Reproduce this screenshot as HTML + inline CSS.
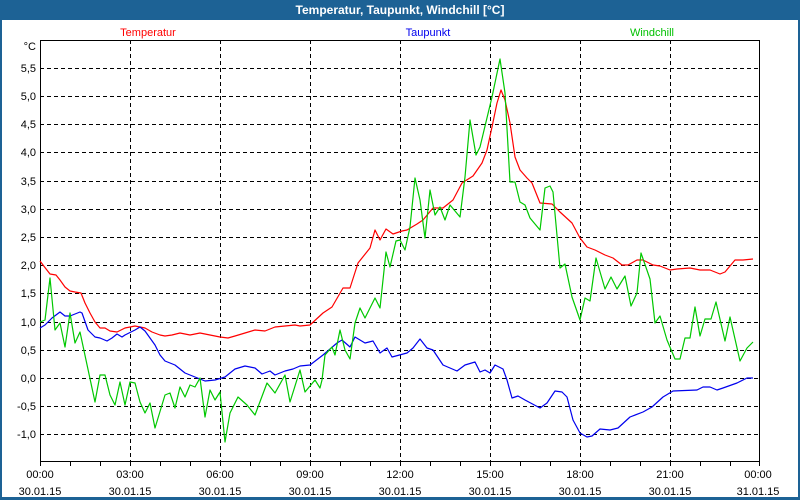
<!DOCTYPE html>
<html><head><meta charset="utf-8"><style>
html,body{margin:0;padding:0;background:#fff;}
svg{display:block;font-family:"Liberation Sans",sans-serif;}
</style></head><body>
<svg width="800" height="500" viewBox="0 0 800 500" xmlns="http://www.w3.org/2000/svg">
<rect x="0" y="0" width="800" height="500" fill="#1d6295"/>
<rect x="2" y="20" width="796" height="477" fill="#fff"/>
<text x="400" y="14" fill="#fff" font-size="12" font-weight="bold" text-anchor="middle">Temperatur, Taupunkt, Windchill [°C]</text>
<text x="148" y="36" fill="#ff0000" font-size="11" text-anchor="middle">Temperatur</text>
<text x="428" y="36" fill="#0000ee" font-size="11" text-anchor="middle">Taupunkt</text>
<text x="652" y="36" fill="#00c000" font-size="11" text-anchor="middle">Windchill</text>
<g stroke="#000" stroke-width="1" stroke-dasharray="4,3" shape-rendering="crispEdges">
<line x1="40" y1="68.5" x2="760" y2="68.5"/><line x1="40" y1="96.5" x2="760" y2="96.5"/>
<line x1="40" y1="124.5" x2="760" y2="124.5"/><line x1="40" y1="152.5" x2="760" y2="152.5"/>
<line x1="40" y1="181.5" x2="760" y2="181.5"/><line x1="40" y1="209.5" x2="760" y2="209.5"/>
<line x1="40" y1="237.5" x2="760" y2="237.5"/><line x1="40" y1="265.5" x2="760" y2="265.5"/>
<line x1="40" y1="293.5" x2="760" y2="293.5"/><line x1="40" y1="322.5" x2="760" y2="322.5"/>
<line x1="40" y1="350.5" x2="760" y2="350.5"/><line x1="40" y1="378.5" x2="760" y2="378.5"/>
<line x1="40" y1="406.5" x2="760" y2="406.5"/><line x1="40" y1="434.5" x2="760" y2="434.5"/>
<line x1="130.5" y1="40" x2="130.5" y2="461"/><line x1="220.5" y1="40" x2="220.5" y2="461"/>
<line x1="310.5" y1="40" x2="310.5" y2="461"/><line x1="400.5" y1="40" x2="400.5" y2="461"/>
<line x1="490.5" y1="40" x2="490.5" y2="461"/><line x1="580.5" y1="40" x2="580.5" y2="461"/>
<line x1="670.5" y1="40" x2="670.5" y2="461"/>
</g>
<g font-size="11" fill="#000" text-anchor="end">
<text x="36" y="50">°C</text>
<text x="36" y="72">5,5</text><text x="36" y="100">5,0</text><text x="36" y="128">4,5</text>
<text x="36" y="156">4,0</text><text x="36" y="185">3,5</text><text x="36" y="213">3,0</text>
<text x="36" y="241">2,5</text><text x="36" y="269">2,0</text><text x="36" y="297">1,5</text>
<text x="36" y="326">1,0</text><text x="36" y="354">0,5</text><text x="36" y="382">0,0</text>
<text x="36" y="410">-0,5</text><text x="36" y="438">-1,0</text>
</g>
<g font-size="11" fill="#000" text-anchor="middle">
<text x="40" y="478">00:00</text><text x="40" y="495">30.01.15</text>
<text x="130" y="478">03:00</text><text x="130" y="495">30.01.15</text>
<text x="220" y="478">06:00</text><text x="220" y="495">30.01.15</text>
<text x="310" y="478">09:00</text><text x="310" y="495">30.01.15</text>
<text x="400" y="478">12:00</text><text x="400" y="495">30.01.15</text>
<text x="490" y="478">15:00</text><text x="490" y="495">30.01.15</text>
<text x="580" y="478">18:00</text><text x="580" y="495">30.01.15</text>
<text x="670" y="478">21:00</text><text x="670" y="495">30.01.15</text>
<text x="758" y="478">00:00</text><text x="758" y="495">31.01.15</text>
</g>
<g stroke="#000" stroke-width="1" shape-rendering="crispEdges">
<line x1="40.5" y1="40" x2="40.5" y2="461"/><line x1="759.5" y1="40" x2="759.5" y2="461"/>
<line x1="40" y1="40.5" x2="760" y2="40.5"/><line x1="40" y1="461.5" x2="760" y2="461.5"/>
<path d="M40.5 461v5M70.5 461v5M100.5 461v5M130.5 461v5M160.5 461v5M190.5 461v5M220.5 461v5M250.5 461v5M280.5 461v5M310.5 461v5M340.5 461v5M370.5 461v5M400.5 461v5M430.5 461v5M460.5 461v5M490.5 461v5M520.5 461v5M550.5 461v5M580.5 461v5M610.5 461v5M640.5 461v5M670.5 461v5M700.5 461v5M730.5 461v5M759.5 461v5"/>
</g>
<g fill="none" stroke-width="1.2" stroke-linejoin="round">
<polyline stroke="#ff0000" points="40,261 43,265 50,274 56,275 60,280 65,287 70,291 75,292 81,293 85,303 90,313 95,322 100,328 105,328 110,331 117,332 125,328 135,326 145,328 152,332 160,335 165,336 172,335 180,333 190,335 200,333 210,335 220,337 228,338 235,336 245,333 255,330 265,331 275,327 285,326 295,325 300,326 310,325 323,313 332,307 343,288 350,288 358,263 370,248 375,230 380,240 386,229 393,234 402,231 407,230 417,224 423,220 433,208 443,208 453,200 462,183 473,176 482,163 487,150 492,127 497,103 501,90 505,100 510,123 515,157 520,170 527,178 532,183 540,203 552,204 560,212 572,223 580,238 587,247 595,250 605,255 613,258 622,265 628,265 637,260 643,260 653,265 660,266 670,270 677,269 690,268 700,270 710,270 720,274 725,272 735,260 743,260 753,259"/>
<polyline stroke="#0000ee" points="40,328 45,325 52,318 60,312 65,316 70,316 80,312 82,313 88,330 95,337 100,338 107,341 112,338 117,334 122,337 125,335 135,330 140,327 145,331 155,345 160,355 165,361 175,365 185,373 195,377 205,381 215,380 225,377 235,369 245,366 255,368 262,374 270,371 275,375 285,371 293,369 300,366 310,365 323,355 337,343 342,340 350,347 355,337 365,343 373,341 380,353 387,348 392,357 407,353 413,348 420,339 427,348 433,350 443,365 457,371 465,365 475,362 480,372 485,370 490,373 495,365 503,369 507,380 512,398 518,396 525,400 540,408 547,403 555,391 562,392 567,397 573,420 580,433 587,437 592,436 600,429 610,430 618,428 630,417 643,412 652,407 663,397 673,391 697,390 703,387 710,387 717,390 723,388 737,383 747,378 753,378"/>
<polyline stroke="#00c800" points="40,322 45,320 50,278 55,330 60,323 65,347 70,313 75,343 80,332 95,402 100,375 105,375 110,395 115,405 120,382 125,405 130,382 135,383 140,402 145,413 150,403 155,428 165,395 170,393 175,408 180,387 185,397 190,385 195,387 200,378 205,417 210,390 215,400 220,392 225,442 230,413 238,397 247,405 255,415 267,383 275,393 285,375 290,402 300,370 305,392 315,380 320,388 322,380 325,355 332,347 335,355 340,330 345,350 350,359 355,323 360,308 365,318 375,298 380,308 386,252 390,267 396,241 400,240 405,250 410,227 415,178 420,200 425,238 430,190 435,215 440,207 445,220 450,205 460,217 465,177 470,120 476,155 480,147 492,97 500,59 505,93 510,182 515,182 520,202 525,205 530,218 540,230 545,188 550,186 553,192 560,268 565,264 572,297 580,320 585,298 590,301 596,258 605,289 611,277 617,289 625,276 631,306 637,293 641,253 650,279 655,323 660,316 667,340 675,359 680,359 685,338 690,338 695,307 700,336 705,319 711,319 716,302 725,341 730,317 740,361 747,348 753,342"/>
</g>
</svg>
</body></html>
